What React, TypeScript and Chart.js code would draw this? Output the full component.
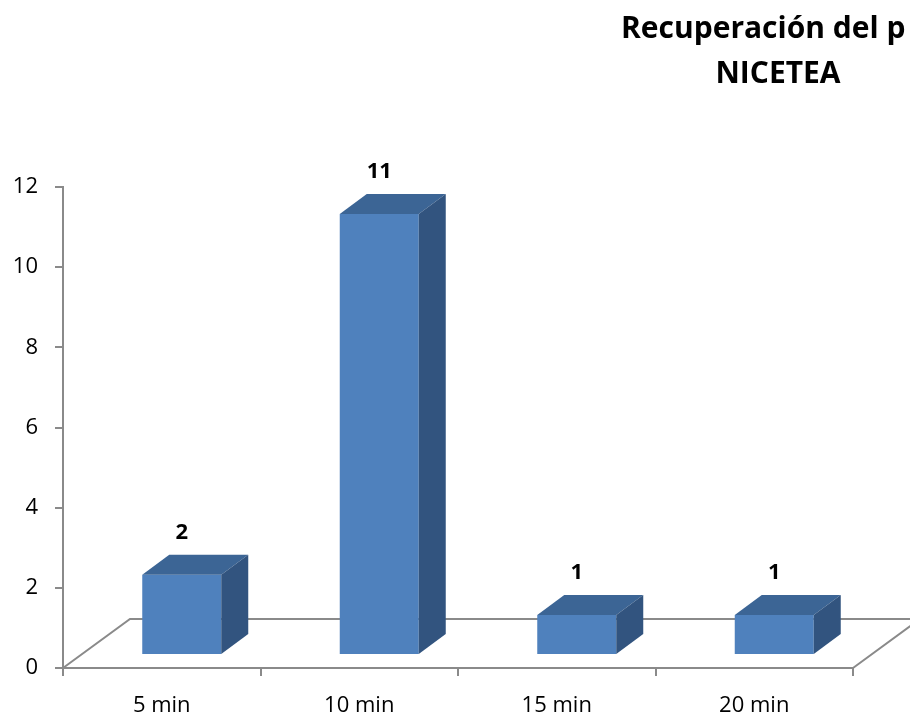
import React, { useEffect, useRef } from "react";
import { Chart, registerables } from "chart.js";

Chart.register(...registerables);

// Recovery time groups and patient counts
const categories = ["5 min", "10 min", "15 min", "20 min"];
const patients = [2, 11, 1, 1];
const yTicks = [0, 2, 4, 6, 8, 10, 12];
const titleLines = ["Recuperación del p", "NICETEA"];

const FONT = "'Open Sans', Lato, sans-serif";
const AXIS_GREY = "#8a8a8a";
const FRONT = "#4f81bd";
const TOP = "#3c6595";
const SIDE = "#32547f";

// pseudo-3D geometry (pixel offsets of the receding faces)
const FLOOR_DEPTH = { dx: 67, dy: -49 };
const BAR_SHIFT = { dx: 20, dy: -13 };
const BAR_DEPTH = { dx: 27, dy: -20 };
const LABEL_LIFT = 42;

const boxPlugin = {
  id: "box3d",
  beforeDatasetsDraw(chart: any) {
    const { ctx, chartArea: a } = chart;
    ctx.save();
    ctx.strokeStyle = AXIS_GREY;
    ctx.lineWidth = 2;
    ctx.beginPath();
    ctx.moveTo(a.left, a.bottom);
    ctx.lineTo(a.left + FLOOR_DEPTH.dx, a.bottom + FLOOR_DEPTH.dy);
    ctx.lineTo(a.right + FLOOR_DEPTH.dx, a.bottom + FLOOR_DEPTH.dy);
    ctx.lineTo(a.right, a.bottom);
    ctx.stroke();
    ctx.restore();
  },
  beforeDatasetDraw(chart: any) {
    chart.ctx.save();
    chart.ctx.translate(BAR_SHIFT.dx, BAR_SHIFT.dy);
  },
  afterDatasetDraw(chart: any, args: any) {
    const ctx = chart.ctx;
    ctx.restore();
    args.meta.data.forEach((bar: any) => {
      const { x, y, base, width } = bar.getProps(["x", "y", "base", "width"], true);
      const l = x - width / 2 + BAR_SHIFT.dx;
      const r = x + width / 2 + BAR_SHIFT.dx;
      const t = y + BAR_SHIFT.dy;
      const b = base + BAR_SHIFT.dy;
      ctx.save();
      ctx.fillStyle = TOP;
      ctx.beginPath();
      ctx.moveTo(l, t);
      ctx.lineTo(r, t);
      ctx.lineTo(r + BAR_DEPTH.dx, t + BAR_DEPTH.dy);
      ctx.lineTo(l + BAR_DEPTH.dx, t + BAR_DEPTH.dy);
      ctx.closePath();
      ctx.fill();
      ctx.fillStyle = SIDE;
      ctx.beginPath();
      ctx.moveTo(r, t);
      ctx.lineTo(r + BAR_DEPTH.dx, t + BAR_DEPTH.dy);
      ctx.lineTo(r + BAR_DEPTH.dx, b + BAR_DEPTH.dy);
      ctx.lineTo(r, b);
      ctx.closePath();
      ctx.fill();
      ctx.restore();
    });
  },
  afterDatasetsDraw(chart: any) {
    const ctx = chart.ctx;
    const meta = chart.getDatasetMeta(0);
    ctx.save();
    ctx.fillStyle = "#000";
    ctx.font = `bold 22px ${FONT}`;
    ctx.textAlign = "center";
    ctx.textBaseline = "middle";
    meta.data.forEach((bar: any, i: number) => {
      const { x, y } = bar.getProps(["x", "y"], true);
      ctx.fillText(String(patients[i]), x + BAR_SHIFT.dx, y + BAR_SHIFT.dy - LABEL_LIFT);
    });
    ctx.restore();
  },
  afterDraw(chart: any) {
    const ctx = chart.ctx;
    ctx.save();
    ctx.fillStyle = "#000";
    ctx.font = `bold 30px ${FONT}`;
    ctx.textBaseline = "alphabetic";
    ctx.textAlign = "left";
    ctx.fillText(titleLines[0], 621, 38);
    ctx.textAlign = "center";
    ctx.fillText(titleLines[1], 778, 83);
    ctx.restore();
  },
};

export default function App() {
  const ref = useRef<HTMLCanvasElement>(null);

  useEffect(() => {
    if (!ref.current) return;
    const chart = new Chart(ref.current, {
      type: "bar",
      data: {
        labels: categories,
        datasets: [
          {
            data: patients,
            backgroundColor: FRONT,
            borderWidth: 0,
            barPercentage: 0.4,
            categoryPercentage: 1,
            clip: false as any,
          },
        ],
      },
      options: {
        responsive: false,
        animation: false,
        devicePixelRatio: 1,
        layout: { padding: { top: 187, right: 57, left: 0, bottom: 0 } },
        plugins: {
          legend: { display: false },
          title: { display: false },
          tooltip: { enabled: false },
        },
        scales: {
          x: {
            offset: true,
            grid: {
              offset: true,
              drawOnChartArea: false,
              drawTicks: true,
              tickLength: 8,
              color: AXIS_GREY,
              lineWidth: 2,
            },
            border: { display: true, color: AXIS_GREY, width: 2 },
            ticks: {
              color: "#000",
              font: { family: FONT, size: 22 },
              padding: 17,
              maxRotation: 0,
            },
            afterFit: (s: any) => {
              s.height = 50;
            },
          },
          y: {
            min: 0,
            max: 12,
            grid: {
              drawOnChartArea: false,
              drawTicks: true,
              tickLength: 8,
              color: AXIS_GREY,
              lineWidth: 2,
            },
            border: { display: true, color: AXIS_GREY, width: 2 },
            ticks: {
              color: "#000",
              font: { family: FONT, size: 22 },
              padding: 17,
            },
            afterBuildTicks: (s: any) => {
              s.ticks = yTicks.map((v) => ({ value: v }));
            },
            afterFit: (s: any) => {
              s.width = 63;
            },
          },
        },
      },
      plugins: [boxPlugin],
    });
    return () => chart.destroy();
  }, []);

  return (
    <div style={{ position: "fixed", left: 0, top: 0, width: 910, height: 718, background: "#fff" }}>
      <canvas ref={ref} width={910} height={718} style={{ display: "block" }} />
    </div>
  );
}
